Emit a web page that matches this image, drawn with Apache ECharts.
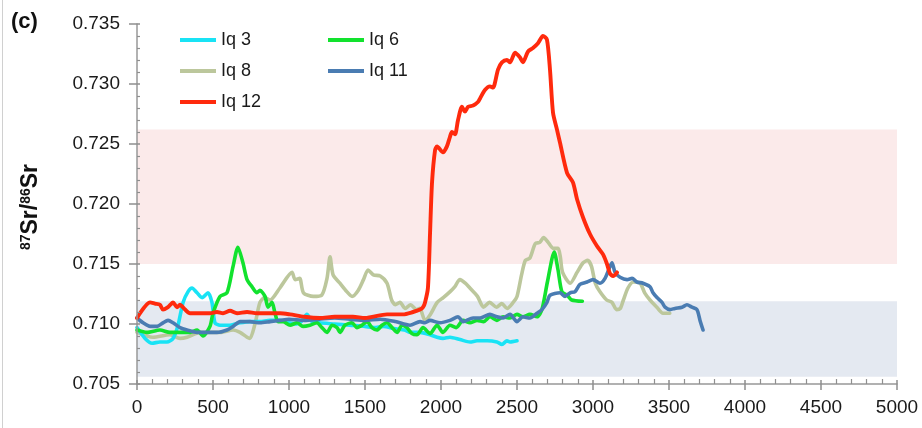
<!DOCTYPE html>
<html><head><meta charset="utf-8">
<script src="https://cdn.jsdelivr.net/npm/echarts@6/dist/echarts.min.js"></script>
<style>html,body{margin:0;padding:0;background:#fff}#c{width:922px;height:428px}</style>
</head><body><div id="c"></div>
<script>
const xTicks = [0,500,1000,1500,2000,2500,3000,3500,4000,4500,5000];
const yTicks = [0.705,0.710,0.715,0.720,0.725,0.730,0.735];
const madeiraRange = [0.7150, 0.7262];
const watRange = [0.7056, 0.7119];

const iq3 = [[0,0.7097],[53,0.7088],[99,0.7084],[151,0.7085],[197,0.7085],[237,0.7088],[270,0.7099],[303,0.7118],[336,0.7127],[362,0.7130],[395,0.7126],[428,0.7122],[467,0.7126],[493,0.7118],[513,0.7101],[546,0.7099],[612,0.7099],[678,0.7101],[743,0.7102],[809,0.7102],[875,0.7103],[941,0.7103],[1000,0.7101],[1050,0.7100],[1080,0.7102],[1118,0.7108],[1150,0.7102],[1200,0.7101],[1300,0.7100],[1400,0.7099],[1500,0.7098],[1560,0.7097],[1620,0.7098],[1700,0.7096],[1760,0.7095],[1800,0.7093],[1862,0.7093],[1928,0.7091],[1974,0.7089],[2013,0.7088],[2059,0.7089],[2125,0.7087],[2191,0.7085],[2237,0.7086],[2303,0.7086],[2368,0.7085],[2401,0.7083],[2434,0.7086],[2454,0.7085],[2500,0.7086]];

const iq6 = [[0,0.7095],[66,0.7093],[151,0.7095],[217,0.7093],[283,0.7093],[349,0.7093],[395,0.7095],[434,0.7090],[480,0.7098],[500,0.7109],[546,0.7123],[592,0.7126],[632,0.7148],[664,0.7164],[697,0.7151],[724,0.7137],[757,0.7131],[789,0.7126],[809,0.7128],[842,0.7123],[862,0.7114],[888,0.7118],[908,0.7109],[928,0.7102],[961,0.7102],[1007,0.7099],[1053,0.7101],[1092,0.7098],[1138,0.7099],[1184,0.7101],[1217,0.7097],[1250,0.7093],[1283,0.7099],[1316,0.7097],[1336,0.7093],[1368,0.7099],[1414,0.7101],[1447,0.7097],[1480,0.7099],[1513,0.7102],[1546,0.7097],[1579,0.7095],[1612,0.7099],[1645,0.7101],[1678,0.7097],[1711,0.7093],[1743,0.7099],[1776,0.7097],[1809,0.7092],[1842,0.7091],[1882,0.7097],[1928,0.7092],[1974,0.7099],[2013,0.7093],[2059,0.7099],[2100,0.7097],[2145,0.7103],[2191,0.7101],[2237,0.7103],[2280,0.7102],[2322,0.7106],[2368,0.7103],[2408,0.7106],[2454,0.7105],[2500,0.7108],[2539,0.7106],[2585,0.7108],[2632,0.7106],[2664,0.7112],[2700,0.7135],[2745,0.7160],[2770,0.7145],[2795,0.7127],[2830,0.7124],[2860,0.7120],[2930,0.7119]];

const iq8 = [[0,0.7093],[105,0.7089],[217,0.7091],[283,0.7088],[329,0.7089],[414,0.7093],[500,0.7093],[546,0.7093],[632,0.7095],[678,0.7093],[724,0.7089],[743,0.7088],[776,0.7100],[809,0.7118],[840,0.7122],[875,0.7120],[940,0.7130],[1020,0.7143],[1040,0.7137],[1070,0.7138],[1095,0.7126],[1160,0.7123],[1215,0.7124],[1250,0.7138],[1270,0.7156],[1290,0.7141],[1335,0.7134],[1380,0.7127],[1415,0.7123],[1455,0.7128],[1490,0.7137],[1520,0.7145],[1555,0.7141],[1600,0.7140],[1645,0.7134],[1675,0.7120],[1700,0.7116],[1730,0.7118],[1765,0.7113],[1800,0.7116],[1840,0.7112],[1860,0.7113],[1895,0.7103],[1930,0.7108],[1975,0.7118],[2015,0.7122],[2060,0.7127],[2090,0.7131],[2125,0.7137],[2160,0.7134],[2190,0.7130],[2240,0.7123],[2280,0.7114],[2320,0.7118],[2365,0.7114],[2400,0.7117],[2435,0.7113],[2475,0.7118],[2500,0.7123],[2530,0.7141],[2555,0.7153],[2585,0.7155],[2620,0.7167],[2650,0.7168],[2675,0.7172],[2705,0.7168],[2740,0.7163],[2770,0.7163],[2785,0.7156],[2800,0.7143],[2850,0.7134],[2895,0.7143],[2935,0.7151],[2965,0.7153],[2990,0.7148],[3015,0.7134],[3045,0.7127],[3090,0.7120],[3125,0.7118],[3155,0.7112],[3180,0.7113],[3200,0.7120],[3230,0.7130],[3265,0.7135],[3310,0.7134],[3340,0.7126],[3375,0.7120],[3420,0.7114],[3460,0.7109],[3505,0.7109]];

const iq11 = [[0,0.7105],[40,0.7101],[86,0.7098],[131,0.7098],[171,0.7101],[204,0.7103],[237,0.7101],[283,0.7097],[329,0.7095],[395,0.7093],[461,0.7093],[526,0.7093],[592,0.7095],[632,0.7098],[678,0.7102],[743,0.7102],[809,0.7101],[875,0.7102],[941,0.7103],[1000,0.7104],[1100,0.7103],[1200,0.7104],[1300,0.7105],[1400,0.7104],[1500,0.7103],[1600,0.7104],[1700,0.7102],[1796,0.7099],[1862,0.7102],[1895,0.7101],[1928,0.7103],[1993,0.7101],[2059,0.7103],[2112,0.7106],[2145,0.7102],[2211,0.7105],[2257,0.7105],[2322,0.7108],[2368,0.7106],[2408,0.7105],[2454,0.7108],[2500,0.7102],[2539,0.7106],[2585,0.7105],[2632,0.7109],[2664,0.7112],[2697,0.7118],[2717,0.7124],[2783,0.7126],[2816,0.7123],[2849,0.7126],[2882,0.7127],[2914,0.7133],[2961,0.7135],[3000,0.7137],[3046,0.7134],[3079,0.7138],[3112,0.7148],[3125,0.7151],[3145,0.7143],[3178,0.7139],[3224,0.7137],[3257,0.7138],[3289,0.7135],[3329,0.7134],[3375,0.7131],[3395,0.7126],[3421,0.7122],[3454,0.7118],[3474,0.7114],[3507,0.7112],[3539,0.7113],[3586,0.7114],[3618,0.7116],[3651,0.7114],[3684,0.7112],[3704,0.7103],[3724,0.7095]];

const iq12 = [[0,0.7105],[86,0.7118],[118,0.7117],[151,0.7116],[171,0.7112],[204,0.7114],[237,0.7118],[263,0.7114],[283,0.7116],[316,0.7112],[349,0.7109],[414,0.7109],[480,0.7109],[526,0.7110],[566,0.7109],[612,0.7111],[658,0.7109],[724,0.7110],[789,0.7109],[875,0.7109],[941,0.7109],[1007,0.7108],[1100,0.7106],[1204,0.7105],[1300,0.7106],[1421,0.7106],[1500,0.7105],[1645,0.7108],[1750,0.7108],[1816,0.7110],[1862,0.7112],[1882,0.7114],[1895,0.7118],[1914,0.7130],[1928,0.7176],[1941,0.7218],[1961,0.7245],[1974,0.7248],[2013,0.7243],[2039,0.7248],[2059,0.7256],[2072,0.7260],[2092,0.7258],[2112,0.7270],[2138,0.7281],[2158,0.7277],[2178,0.7281],[2211,0.7282],[2243,0.7285],[2257,0.7288],[2289,0.7295],[2322,0.7298],[2342,0.7297],[2375,0.7312],[2401,0.7318],[2434,0.7320],[2454,0.7318],[2487,0.7326],[2520,0.7322],[2539,0.7318],[2572,0.7327],[2605,0.7330],[2638,0.7334],[2671,0.7340],[2697,0.7337],[2717,0.7312],[2737,0.7276],[2763,0.7262],[2783,0.7251],[2829,0.7226],[2868,0.7218],[2895,0.7204],[2934,0.7189],[2980,0.7175],[3026,0.7165],[3066,0.7158],[3092,0.7150],[3112,0.7142],[3132,0.7140],[3158,0.7143]];

const colors = {iq3:'#19e3f5', iq6:'#12e22e', iq8:'#bcc79c', iq11:'#4a7cb2', iq12:'#ff2a0d'};
const FONT = 'Liberation Sans, Arial, sans-serif';

const chart = echarts.init(document.getElementById('c'), null, {renderer:'canvas'});
function ln(name, data, color, w, z){
  return {name, type:'line', data, smooth:0.25, showSymbol:false, symbol:'none',
    lineStyle:{color, width:w, cap:'round', join:'round'}, itemStyle:{color}, z};
}
const axisCol = '#989898';
const tickCol = '#8f8f8f';
const option = {
  animation:false,
  grid:{left:137, right:25, top:24, bottom:44},
  xAxis:[
    {type:'value', min:xTicks[0], max:xTicks[xTicks.length-1], interval:500, z:20,
      axisLine:{show:true, lineStyle:{color:axisCol, width:1.5}},
      axisTick:{show:true, inside:false, length:6, lineStyle:{color:tickCol, width:1.5}},
      minorTick:{show:false},
      splitLine:{show:false},
      axisLabel:{show:true, margin:14, fontSize:19, fontFamily:FONT, color:'#1a1a1a', formatter:v=>String(v)}
    },
    {type:'value', min:xTicks[0], max:xTicks[xTicks.length-1], interval:500, position:'bottom', z:20,
      axisLine:{show:true, lineStyle:{color:'rgba(0,0,0,0)'}},
      axisTick:{show:true, inside:true, length:4, lineStyle:{color:tickCol, width:1.5}},
      minorTick:{show:true, splitNumber:5, length:5, lineStyle:{color:tickCol, width:1.2}},
      splitLine:{show:false}, axisLabel:{show:false}
    }
  ],
  yAxis:[
    {type:'value', min:yTicks[0], max:yTicks[yTicks.length-1], interval:0.005, z:20,
      axisLine:{show:true, lineStyle:{color:axisCol, width:1.5}},
      axisTick:{show:true, inside:false, length:8, lineStyle:{color:tickCol, width:1.5}},
      minorTick:{show:false},
      splitLine:{show:false},
      axisLabel:{show:true, margin:17, fontSize:19, fontFamily:FONT, color:'#1a1a1a',
        formatter:v=>v.toFixed(3)}
    },
    {type:'value', min:yTicks[0], max:yTicks[yTicks.length-1], interval:0.005, position:'left', z:20,
      axisLine:{show:true, lineStyle:{color:'rgba(0,0,0,0)'}},
      axisTick:{show:true, inside:true, length:3, lineStyle:{color:tickCol, width:1.5}},
      minorTick:{show:true, splitNumber:5, length:3, lineStyle:{color:tickCol, width:1.2}},
      splitLine:{show:false}, axisLabel:{show:false}
    }
  ],
  legend:[
    {data:['Iq 3','Iq 8','Iq 12'], orient:'vertical', left:180, top:31, padding:0, itemGap:13,
      itemWidth:36, itemHeight:4, icon:'rect',
      textStyle:{fontSize:18, fontFamily:FONT, color:'#1a1a1a', lineHeight:18}},
    {data:['Iq 6','Iq 11'], orient:'vertical', left:328, top:31, padding:0, itemGap:13,
      itemWidth:36, itemHeight:4, icon:'rect',
      textStyle:{fontSize:18, fontFamily:FONT, color:'#1a1a1a', lineHeight:18}}
  ],
  series:[
    Object.assign(ln('Iq 8', iq8, colors.iq8, 3.6, 2), {
      markArea:{silent:true, itemStyle:{color:'#fbeaea'},
        data:[[{xAxis:xTicks[0], yAxis:madeiraRange[0]},{xAxis:xTicks[xTicks.length-1], yAxis:madeiraRange[1]}]]}
    }),
    Object.assign(ln('Iq 3', iq3, colors.iq3, 3.6, 3), {
      markArea:{silent:true, itemStyle:{color:'#e4e9f1'},
        data:[[{xAxis:xTicks[0], yAxis:watRange[0]},{xAxis:xTicks[xTicks.length-1], yAxis:watRange[1]}]]}
    }),
    ln('Iq 6', iq6, colors.iq6, 3.6, 4),
    ln('Iq 11', iq11, colors.iq11, 3.6, 5),
    ln('Iq 12', iq12, colors.iq12, 3.9, 6)
  ],
  graphic:[
    {type:'line', shape:{x1:2.5, y1:0, x2:2.5, y2:428}, style:{stroke:'#d0d0d0', lineWidth:1}},
    {type:'text', left:11, top:11, style:{text:'(c)', font:'bold 22px '+FONT, fill:'#111'}},
    {type:'text', x:798, y:184, style:{text:'Range of Madeira', font:'19px '+FONT, fill:'#ff2020', align:'center', verticalAlign:'middle'}},
    {type:'text', x:798, y:208, style:{text:'water values', font:'19px '+FONT, fill:'#ff2020', align:'center', verticalAlign:'middle'}},
    {type:'text', x:795, y:331, style:{text:'Range of WAT and', font:'19px '+FONT, fill:'#2240ff', align:'center', verticalAlign:'middle'}},
    {type:'text', x:795, y:355, style:{text:'Amazon water values', font:'19px '+FONT, fill:'#2240ff', align:'center', verticalAlign:'middle'}},
    {type:'text', x:31, y:207, rotation:Math.PI/2,
      style:{text:'{s|87}{b|Sr/}{s|86}{b|Sr}', align:'center', verticalAlign:'middle', fill:'#111',
        rich:{s:{fontSize:14, fontWeight:'bold', fontFamily:FONT, verticalAlign:'top', lineHeight:24, fill:'#111'},
              b:{fontSize:23, fontWeight:'bold', fontFamily:FONT, lineHeight:24, fill:'#111'}}}}
  ]
};
chart.setOption(option);
</script></body></html>
